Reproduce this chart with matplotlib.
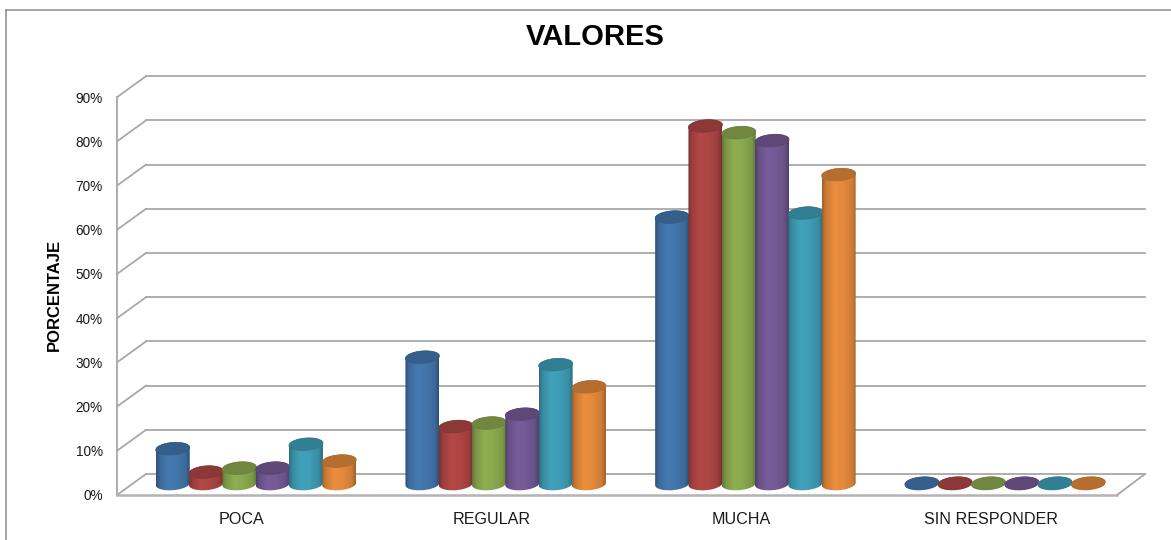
import numpy as np
import matplotlib
matplotlib.use("Agg")
import matplotlib.pyplot as plt
from matplotlib.patches import Polygon
from matplotlib.colors import to_rgb

plt.rcParams['font.family'] = ['Liberation Sans', 'DejaVu Sans']

# ---------- data ----------
categories = ["POCA", "REGULAR", "MUCHA", "SIN RESPONDER"]
serie_1 = [8.0, 28.7, 60.4, 0.2]
serie_2 = [2.7, 13.0, 81.0, 0.2]
serie_3 = [3.6, 13.8, 79.5, 0.2]
serie_4 = [3.6, 15.8, 77.7, 0.2]
serie_5 = [9.0, 27.0, 61.3, 0.2]
serie_6 = [5.2, 22.0, 70.0, 0.2]
series = [serie_1, serie_2, serie_3, serie_4, serie_5, serie_6]
y_ticks = [0, 10, 20, 30, 40, 50, 60, 70, 80, 90]

# ---------- style ----------
W, H = 1171, 540
colors = ["#4376AC", "#AE4644", "#8BA94F", "#745A96", "#3F9DB6", "#E48A3C"]
PX_PER_GROUP = 249.7
PX_PER_VALUE = 4.42
X0_PX, Y0_PX = 256.0, 484.0

fig = plt.figure(figsize=(W / 100, H / 100), dpi=100, facecolor="white")
ax = fig.add_axes([0, 0, 1, 1])
xlim = (-X0_PX / PX_PER_GROUP, (W - X0_PX) / PX_PER_GROUP)
ylim = ((Y0_PX - H) / PX_PER_VALUE, Y0_PX / PX_PER_VALUE)
ax.axis("off")


def line_px(x0, x1, v0, v1, color="#a8a8a8", lw=1.3, z=1):
    ax.plot([x0, x1], [v0, v1], color=color, lw=lw, solid_capstyle="projecting", zorder=z)


dx = 1 / PX_PER_GROUP
dv = 1 / PX_PER_VALUE
left_f = (117 - X0_PX) * dx
left_b = (146 - X0_PX) * dx
right_f = (1117 - X0_PX) * dx
right_b = (1145 - X0_PX) * dx
front_dv = -11 * dv
back_dv = 10 * dv

# Walls and gridlines
for t in y_ticks:
    line_px(left_f, left_b, t + front_dv, t + back_dv)
    line_px(left_b, right_b, t + back_dv, t + back_dv)
line_px(left_f, left_f, y_ticks[0] + front_dv, y_ticks[-1] + front_dv)
line_px(left_f, right_f, front_dv, front_dv, color="#b4b4b4", lw=1.8)
line_px(right_f, right_b, front_dv, back_dv)

# Cylinders
A = 17.0 * dx          # half width
B = 6.2 * dv           # half height of the ellipse
TILT = 1.2 * dv        # right side sits slightly higher
tt = np.linspace(0, 2 * np.pi, 100)
n_series = len(series)
step = 33.3 * dx


def shade(col):
    c = np.array(to_rgb(col))
    stops = np.array([0.0, 0.1, 0.35, 0.6, 0.88, 1.0])
    factor = np.array([0.70, 0.88, 1.03, 1.0, 0.9, 0.70])
    u = np.linspace(0, 1, 64)
    f = np.interp(u, stops, factor)
    return np.clip(c[None, None, :] * f[None, :, None], 0, 1)


for g, _ in enumerate(categories):
    for s in range(n_series):
        v = series[s][g]
        cx = g + (s - (n_series - 1) / 2) * step
        col = colors[s]
        lo = np.linspace(np.pi, 2 * np.pi, 50)
        hi = np.linspace(0, np.pi, 50)
        xs = np.r_[cx + A * np.cos(lo), cx + A * np.cos(hi)]
        ys = np.r_[B * np.sin(lo) + TILT * np.cos(lo),
                   v + B * np.sin(hi) + TILT * np.cos(hi)]
        z = 3 + s * 0.1
        body = Polygon(np.c_[xs, ys], closed=True, fc="none", ec="none",
                       transform=ax.transData, zorder=z)
        ax.add_patch(body)
        im = ax.imshow(shade(col), extent=(cx - A, cx + A, -2 * B, v + 2 * B),
                       aspect="auto", interpolation="bilinear", zorder=z)
        im.set_clip_path(body)
        top = np.c_[cx + A * np.cos(tt),
                    v + B * np.sin(tt) + TILT * np.cos(tt)]
        ax.add_patch(Polygon(top, closed=True,
                             fc=tuple(np.array(to_rgb(col)) * 0.80),
                             ec=tuple(np.array(to_rgb(col)) * 0.76),
                             lw=0.5, zorder=z + 0.01))

ax.set_xlim(*xlim)
ax.set_ylim(*ylim)

# Text
for t in y_ticks:
    ax.text((103 - X0_PX) * dx, t + front_dv - 1.5 * dv, f"{t}%", ha="right", va="center",
            fontsize=9.8, color="#1a1a1a")
for g, name in enumerate(categories):
    ax.text(g + (-14.5) * dx, (Y0_PX - 520) * dv, name, ha="center", va="center",
            fontsize=11.6, color="#1a1a1a")
ax.text((595 - X0_PX) * dx, (Y0_PX - 37) * dv, "VALORES", ha="center", va="center",
        fontsize=21, fontweight="bold", color="black")
ax.text((54 - X0_PX) * dx, (Y0_PX - 295) * dv, "PORCENTAJE", ha="center", va="center",
        rotation=90, fontsize=12, fontweight="bold", color="black")

# Chart frame (cropped in the source: only left and top edges are visible)
ax.plot([(6 - X0_PX) * dx] * 2, [(Y0_PX - H) * dv, (Y0_PX - 10) * dv],
        color="#8c8c8c", lw=1.1, zorder=0)
ax.plot([(6 - X0_PX) * dx, (W - X0_PX) * dx], [(Y0_PX - 10) * dv] * 2,
        color="#8c8c8c", lw=1.1, zorder=0)

fig.savefig("out.png", dpi=100, facecolor="white")
